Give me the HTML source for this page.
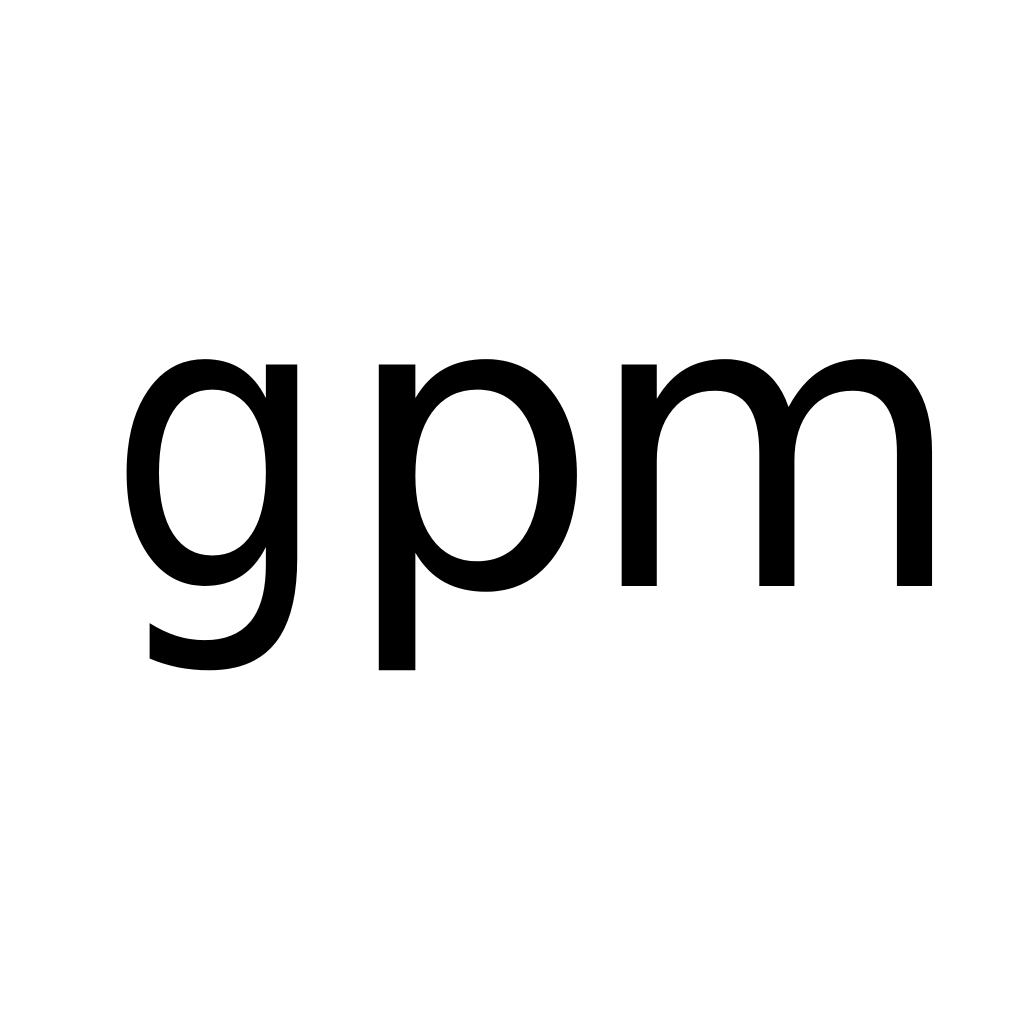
<!DOCTYPE html>
<html>
<head>
<meta charset="utf-8">
<style>
html,body{margin:0;padding:0;background:#fff;width:1024px;height:1024px;overflow:hidden;}
svg{display:block;}
</style>
</head>
<body>
<svg width="1024" height="1024" viewBox="0 0 1024 1024">
  <rect width="1024" height="1024" fill="#fff"/>
  <g font-family="'DejaVu Sans', 'Liberation Sans', sans-serif" font-size="405" fill="#000">
    <text x="98" y="586" transform="translate(122,0) scale(0.862,1) translate(-115,0)">g</text>
    <text x="342" y="586">p</text>
    <text x="582" y="586" transform="translate(619,0) scale(0.96,1) translate(-616,0)">m</text>
  </g>
</svg>
</body>
</html>
